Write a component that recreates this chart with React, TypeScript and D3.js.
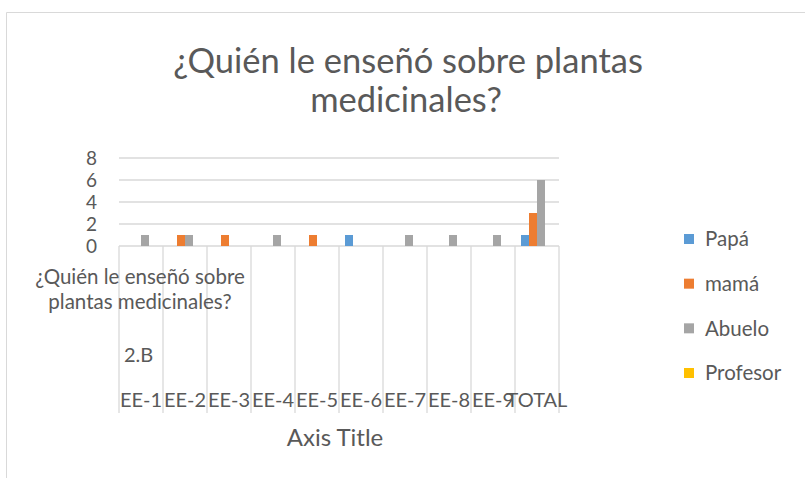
import * as d3 from "d3";

const categories = ["EE-1", "EE-2", "EE-3", "EE-4", "EE-5", "EE-6", "EE-7", "EE-8", "EE-9", "TOTAL"];
const seriesNames = ["Papá", "mamá", "Abuelo", "Profesor"];
const papa = [0, 0, 0, 0, 0, 1, 0, 0, 0, 1];
const mama = [0, 1, 1, 0, 1, 0, 0, 0, 0, 3];
const abuelo = [1, 1, 0, 1, 0, 0, 1, 1, 1, 6];
const profesor = [0, 0, 0, 0, 0, 0, 0, 0, 0, 0];
const yTicks = [0, 2, 4, 6, 8];
const colors = ["#5B9BD5", "#ED7D31", "#A5A5A5", "#FFC000"];

const W = 805;
const H = 478;
const font = "Lato, 'Open Sans', sans-serif";
const textColor = "#595959";
const gridColor = "#D9D9D9";

export default function App() {
  const seriesValues = [papa, mama, abuelo, profesor];
  const plot = { left: 119, right: 559, top: 158, bottom: 246 };

  const x = d3.scaleBand().domain(categories).range([plot.left, plot.right]).padding(0);
  // 4 bars of 8px centred in each 44px category
  const xInner = d3
    .scaleBand()
    .domain(seriesNames)
    .range([0, x.bandwidth()])
    .paddingInner(0)
    .paddingOuter(0.75);
  const y = d3.scaleLinear().domain([0, 8]).range([plot.bottom, plot.top]);

  const legendY = d3.scalePoint().domain(seriesNames).range([239, 373]);

  const boundaries = categories.map((c) => x(c) as number).concat([plot.right]);

  return (
    <svg
      width={W}
      height={H}
      style={{ position: "absolute", left: 0, top: 0, background: "#fff" }}
      fontFamily={font}
    >
      {/* chart border */}
      <line x1={6.5} y1={12.5} x2={W} y2={12.5} stroke={gridColor} />
      <line x1={6.5} y1={12.5} x2={6.5} y2={H} stroke={gridColor} />

      {/* title */}
      <text x={408} y={73} textAnchor="middle" fontSize={34.5} fill={textColor}>
        ¿Quién le enseñó sobre plantas
      </text>
      <text x={406} y={112} textAnchor="middle" fontSize={34.5} fill={textColor}>
        medicinales?
      </text>

      {/* gridlines */}
      {yTicks.map((t) => (
        <line
          key={t}
          x1={plot.left}
          x2={plot.right}
          y1={y(t)}
          y2={y(t)}
          stroke={gridColor}
          strokeWidth={1.3}
        />
      ))}
      {yTicks.map((t) => (
        <text
          key={"l" + t}
          x={97}
          y={y(t)}
          dy="0.36em"
          textAnchor="end"
          fontSize={19}
          fill={textColor}
        >
          {t}
        </text>
      ))}

      {/* category separators */}
      {boundaries.map((bx, i) => (
        <line
          key={"b" + i}
          x1={bx}
          x2={bx}
          y1={plot.bottom}
          y2={413}
          stroke={gridColor}
          strokeWidth={1.3}
        />
      ))}

      {/* bars */}
      {categories.map((c, ci) => (
        <g key={c} transform={`translate(${x(c)},0)`}>
          {seriesNames.map((s, si) => {
            const v = seriesValues[si][ci];
            if (!v) return null;
            return (
              <rect
                key={s}
                x={xInner(s)}
                width={xInner.bandwidth()}
                y={y(v)}
                height={y(0) - y(v)}
                fill={colors[si]}
              />
            );
          })}
        </g>
      ))}

      {/* multi-level category labels */}
      {categories.map((c) => (
        <text
          key={"c" + c}
          x={(x(c) as number) + x.bandwidth() / 2}
          y={407}
          textAnchor="middle"
          fontSize={20}
          fill={textColor}
        >
          {c}
        </text>
      ))}
      <text x={138.5} y={362} textAnchor="middle" fontSize={20} fill={textColor}>
        2.B
      </text>
      <text x={140} y={284} textAnchor="middle" fontSize={20.5} fill={textColor}>
        ¿Quién le enseñó sobre
      </text>
      <text x={140} y={309} textAnchor="middle" fontSize={20.5} fill={textColor}>
        plantas medicinales?
      </text>

      {/* axis title */}
      <text x={335} y={446} textAnchor="middle" fontSize={24} fill={textColor}>
        Axis Title
      </text>

      {/* legend */}
      {seriesNames.map((s, i) => (
        <g key={"lg" + s} transform={`translate(684,${legendY(s)})`}>
          <rect x={0} y={-5} width={10} height={10} fill={colors[i]} />
          <text x={21} y={0} dy="0.36em" fontSize={20.5} fill={textColor}>
            {s}
          </text>
        </g>
      ))}
    </svg>
  );
}
